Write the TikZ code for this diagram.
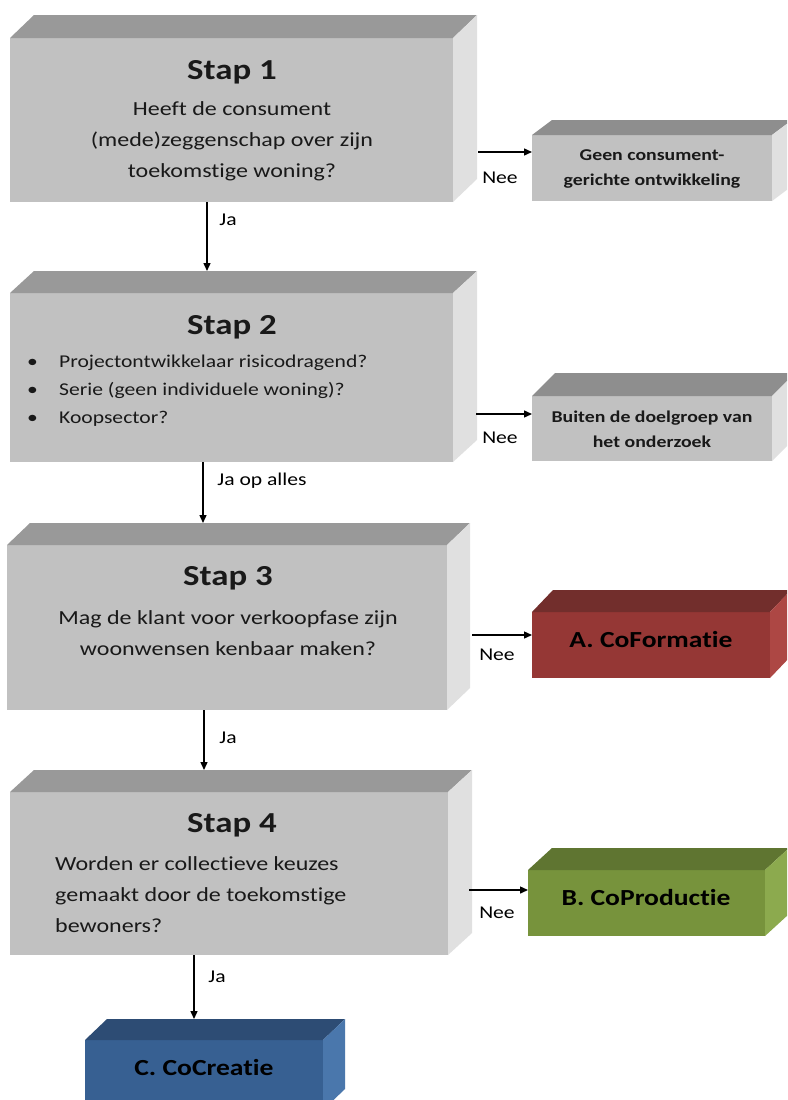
\documentclass[tikz,border=0pt]{standalone}
\usepackage{fontspec}
\setmainfont{Carlito}[FakeStretch=1.2, Ligatures=NoCommon]
\usetikzlibrary{arrows.meta,calc}

\definecolor{frontgray}{HTML}{C1C1C1}
\definecolor{topgray}{HTML}{999999}
\definecolor{sidegray}{HTML}{E0E0E0}
\definecolor{topgraydk}{HTML}{8E8E8E}
\definecolor{redfront}{HTML}{953735}
\definecolor{redtop}{HTML}{722E2C}
\definecolor{redside}{HTML}{AD4744}
\definecolor{greenfront}{HTML}{77933C}
\definecolor{greentop}{HTML}{5F7531}
\definecolor{greenside}{HTML}{8CAA4E}
\definecolor{bluefront}{HTML}{376092}
\definecolor{bluetop}{HTML}{2D4C74}
\definecolor{blueside}{HTML}{4A77AC}

% top and right faces of a block whose front face is node #1;
% also names the back edge of the top face #1top
\newcommand\blockfaces[5]{%
  \fill[#4] (#1.north west) -- ++(#2,#3) -- ([shift={(#2,#3)}]#1.north east) -- (#1.north east) -- cycle;
  \fill[#5] (#1.north east) -- ++(#2,#3) -- ([shift={(#2,#3)}]#1.south east) -- (#1.south east) -- cycle;
  \coordinate (#1top) at ([yshift=#3pt]#1.north);
}

\tikzset{
  front/.style={rectangle, inner sep=0pt, outer sep=0pt, draw=none},
  heading/.style={font=\fontsize{29}{35}\selectfont\bfseries, text=black!90, inner sep=0pt},
  body/.style={font=\fontsize{20}{31}\selectfont, text=black!90, inner sep=0pt},
  bullets/.style={font=\fontsize{18}{28}\selectfont, text=black!90, inner sep=0pt, align=left},
  smalltxt/.style={font=\fontsize{16.5}{25}\selectfont\bfseries, text=black!90, inner sep=0pt, align=center},
  resulttxt/.style={font=\fontsize{23}{28}\selectfont\bfseries, text=black, inner sep=0pt},
  lbl/.style={font=\fontsize{18}{22}\selectfont, text=black, inner sep=0pt},
  arr/.style={line width=1.4pt, -{Triangle[length=8pt,width=7pt]}}
}

\begin{document}
\begin{tikzpicture}[x=1pt,y=1pt]
\useasboundingbox (0,0) rectangle (787,-1100);
\clip (0,0) rectangle (787,-1100);
\fill[white] (0,0) rectangle (787,-1100);

% main step blocks
\node[front, fill=frontgray, minimum width=443pt, minimum height=164pt] (s1) at (231.5,-120) {};
\blockfaces{s1}{24}{23}{topgray}{sidegray}
\node[front, fill=frontgray, minimum width=443pt, minimum height=169pt] (s2) at (231.5,-377.5) {};
\blockfaces{s2}{24}{22}{topgray}{sidegray}
\node[front, fill=frontgray, minimum width=440pt, minimum height=165pt] (s3) at (227,-627.5) {};
\blockfaces{s3}{23}{22}{topgray}{sidegray}
\node[front, fill=frontgray, minimum width=438pt, minimum height=163pt] (s4) at (229,-873.5) {};
\blockfaces{s4}{24}{22}{topgray}{sidegray}

% side outcome blocks
\node[front, fill=frontgray, minimum width=240pt, minimum height=66pt] (g) at (652,-168) {};
\blockfaces{g}{20}{15}{topgraydk}{sidegray}
\node[front, fill=frontgray, minimum width=240pt, minimum height=65pt] (b) at (652,-428.5) {};
\blockfaces{b}{23}{23}{topgraydk}{sidegray}
\node[front, fill=redfront, minimum width=238pt, minimum height=66pt] (a) at (651,-645) {};
\blockfaces{a}{21}{22}{redtop}{redside}
\node[front, fill=greenfront, minimum width=237pt, minimum height=66pt] (p) at (646.5,-903) {};
\blockfaces{p}{24}{22}{greentop}{greenside}
\node[front, fill=bluefront, minimum width=238pt, minimum height=70pt] (c) at (204,-1075) {};
\blockfaces{c}{22}{21}{bluetop}{blueside}

% texts of the steps
\node[heading] (h1) at (232,-72) {Stap 1};
\node[body, align=center] (t1) at (232,-141) {Heeft de consument\\(mede)zeggenschap over zijn\\toekomstige woning?};

\node[heading] (h2) at (232,-327) {Stap 2};
\node[bullets, anchor=west] (t2) at (27,-391) {\makebox[32pt][l]{•}Projectontwikkelaar risicodragend?\\\makebox[32pt][l]{•}Serie (geen individuele woning)?\\\makebox[32pt][l]{•}Koopsector?};

\node[heading] (h3) at (228,-578) {Stap 3};
\node[body, align=center] (t3) at (228,-633) {Mag de klant voor verkoopfase zijn\\woonwensen kenbaar maken?};

\node[heading] (h4) at (232,-825) {Stap 4};
\node[body, align=left, anchor=west] (t4) at (55,-895) {Worden er collectieve keuzes\\gemaakt door de toekomstige\\bewoners?};

% texts of the outcomes
\node[smalltxt] (gt) at (652,-169) {Geen consument-\\gerichte ontwikkeling};
\node[smalltxt] (bt) at (652,-429) {Buiten de doelgroep van\\het onderzoek};
\node[resulttxt] (at) at (651,-640) {A. CoFormatie};
\node[resulttxt] (pt) at (646,-898) {B. CoProductie};
\node[resulttxt] (ct) at (204,-1068) {C. CoCreatie};

% connectors between the steps
\coordinate (v1) at ([xshift=-24.5pt]s1.south);
\draw[arr] (v1) -- (v1 |- s2top);
\coordinate (v2) at ([xshift=-28.5pt]s2.south);
\draw[arr] (v2) -- (v2 |- s3top);
\coordinate (v3) at ([xshift=-23pt]s3.south);
\draw[arr] (v3) -- (v3 |- s4top);
\coordinate (v4) at ([xshift=-35pt]s4.south);
\draw[arr] (v4) -- (v4 |- ctop);

% connectors to the outcomes
\coordinate (n1) at ([shift={(25,-32)}]s1.east);
\draw[arr] (n1) -- (n1 -| g.west);
\coordinate (n2) at ([shift={(23,-36.5)}]s2.east);
\draw[arr] (n2) -- (n2 -| b.west);
\coordinate (n3) at ([shift={(25,-7.5)}]s3.east);
\draw[arr] (n3) -- (n3 -| a.west);
\coordinate (n4) at ([shift={(21,-16.5)}]s4.east);
\draw[arr] (n4) -- (n4 -| p.west);

% connector labels
\node[lbl] (l1) at (228,-220) {Ja};
\node[lbl] (l2) at (262,-481) {Ja op alles};
\node[lbl] (l3) at (228,-738) {Ja};
\node[lbl] (l4) at (217,-977) {Ja};
\node[lbl] (l5) at (500,-178) {Nee};
\node[lbl] (l6) at (500,-438) {Nee};
\node[lbl] (l7) at (497,-655) {Nee};
\node[lbl] (l8) at (497,-913) {Nee};
\end{tikzpicture}
\end{document}
